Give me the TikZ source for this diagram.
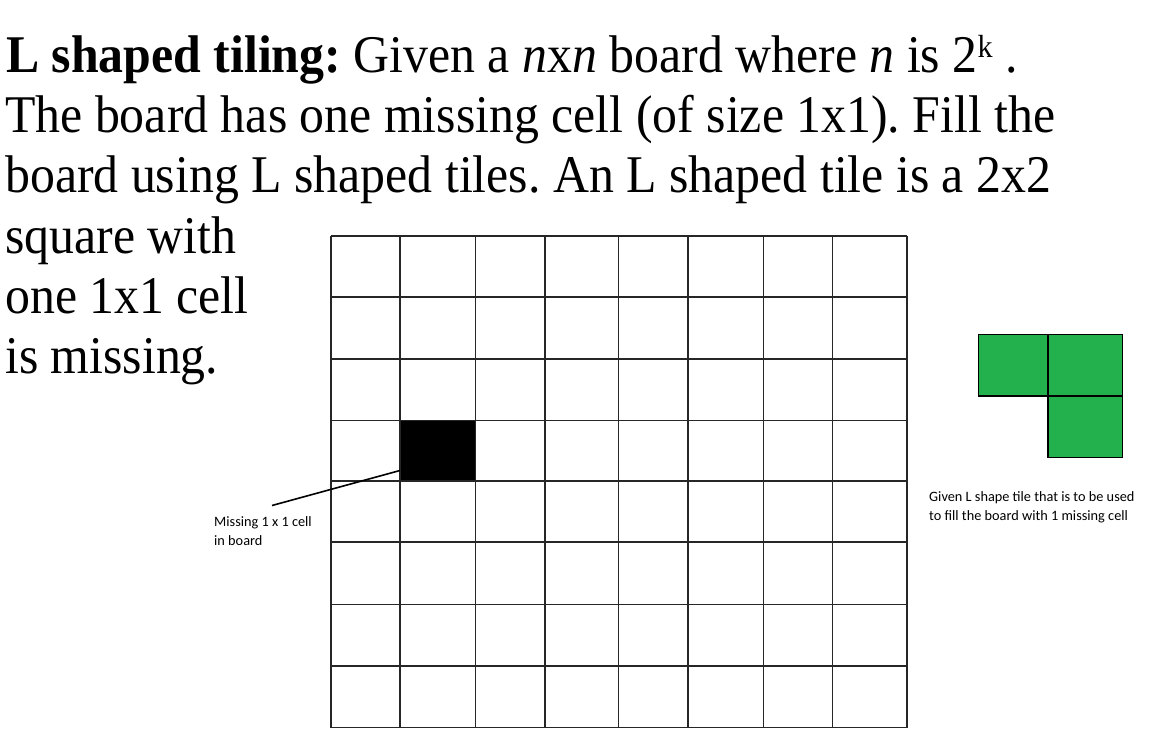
\documentclass[tikz,border=0pt]{standalone}
\usepackage{fontspec}
\setmainfont{Liberation Serif}[FakeStretch=0.94]
\newfontfamily\calib{Carlito}
\definecolor{tilegreen}{HTML}{22B14C}
\frenchspacing
\tikzset{
  title/.style={anchor=base west, inner sep=0pt, font=\fontsize{53}{60}\selectfont},
  small/.style={anchor=base west, inner sep=0pt, font=\calib\fontsize{14.3}{19}\selectfont},
  gridline/.style={line width=1.2pt, draw=black!85},
  tilecell/.style={fill=tilegreen, draw=black, line width=1.4pt},
  leader/.style={line width=1.6pt, draw=black}
}
\begin{document}
\begin{tikzpicture}[x=1pt,y=-1pt]
\useasboundingbox (0,0) rectangle (1152,741);
% title text
\node[title] (t1) at (6,73) {\textbf{L shaped tiling:} Given a \textit{n}x\textit{n} board where \textit{n} is 2\raisebox{15pt}{\fontsize{32}{32}\selectfont k} .};
\node[title] (t2) at (5,133) {The board has one missing cell (of size 1x1). Fill the};
\node[title] (t3) at (5,193) {board using L shaped tiles. An L shaped tile is a 2x2};
\node[title] (t4) at (5,253) {square with};
\node[title] (t5) at (5,313) {one 1x1 cell};
\node[title] (t6) at (5,373) {is missing.};
% missing cell
\fill[black] (400,420.5) rectangle (475.5,481);
% board grid
\foreach \x in {331,400,475.5,545,618.5,688,763.5,832.5,907}
  \draw[gridline] (\x,236) -- (\x,727.5);
\foreach \y in {236,297,359,420.5,481,542,604.5,666,727.5}
  \draw[gridline] (331,\y) -- (907,\y);
% leader and label
\coordinate (tip) at (400,470.5);
\coordinate (tail) at (272,505.5);
\draw[leader] (tail) -- (tip);
\node[small] (m1) at (214,526.5) {Missing 1 x 1 cell};
\node[small] (m2) at (214,545.5) {in board};
% L tile
\draw[tilecell] (978.5,334.5) rectangle (1048,396);
\draw[tilecell] (1048,334.5) rectangle (1122.5,396);
\draw[tilecell] (1048,396) rectangle (1122.5,457.5);
\node[small] (g1) at (929,501) {Given L shape tile that is to be used};
\node[small] (g2) at (929,520) {to fill the board with 1 missing cell};
\end{tikzpicture}
\end{document}
